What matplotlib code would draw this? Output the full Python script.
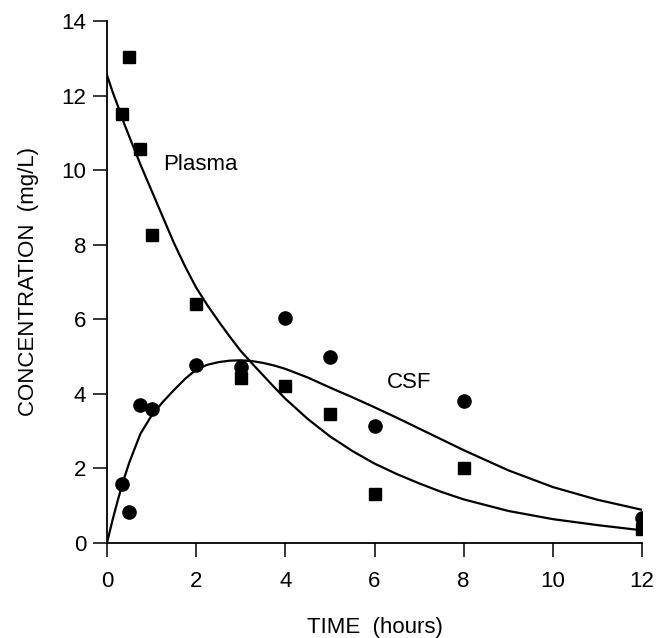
import matplotlib
matplotlib.use("Agg")
import matplotlib.pyplot as plt

plt.rcParams['font.family'] = ['Liberation Sans', 'DejaVu Sans']

# Observed data
plasma_t = [0.33, 0.5, 0.75, 1, 2, 3, 4, 5, 6, 8, 12]
plasma_c = [11.5, 13.03, 10.56, 8.25, 6.42, 4.42, 4.22, 3.47, 1.32, 2.02, 0.37]
csf_t = [0.33, 0.5, 0.75, 1, 2, 3, 4, 5, 6, 8, 12]
csf_c = [1.57, 0.84, 3.71, 3.59, 4.77, 4.72, 6.03, 4.99, 3.15, 3.82, 0.66]

# Fitted curves
curve_t = [0, 0.125, 0.25, 0.375, 0.5, 0.75, 1, 1.25, 1.5, 1.75, 2, 2.25, 2.5, 2.75, 3, 3.25,
           3.5, 3.75, 4, 4.5, 5, 5.5, 6, 6.5, 7, 7.5, 8, 9, 10, 11, 12]
plasma_fit = [12.55, 12.1, 11.7, 11.28, 10.9, 10.15, 9.45, 8.75, 8.05, 7.42, 6.85, 6.38, 5.95,
              5.54, 5.15, 4.82, 4.5, 4.18, 3.87, 3.33, 2.86, 2.47, 2.13, 1.85, 1.6, 1.37, 1.17,
              0.86, 0.64, 0.48, 0.34]
csf_fit = [0.0, 0.62, 1.18, 1.7, 2.16, 2.93, 3.42, 3.78, 4.1, 4.4, 4.65, 4.78, 4.85, 4.89, 4.9,
           4.88, 4.83, 4.76, 4.67, 4.44, 4.17, 3.91, 3.64, 3.36, 3.07, 2.78, 2.49, 1.95, 1.5,
           1.16, 0.89]

x_ticks = [0, 2, 4, 6, 8, 10, 12]
y_ticks = [0, 2, 4, 6, 8, 10, 12, 14]

fig = plt.figure(figsize=(6.56, 6.38), dpi=100)
ax = fig.add_axes([107/656, (638-543)/638, (642-107)/656, (543-21)/638])

ax.plot(curve_t, plasma_fit, color='black', lw=1.6, solid_capstyle='round', solid_joinstyle='round')
ax.plot(curve_t, csf_fit, color='black', lw=1.6, solid_capstyle='round', solid_joinstyle='round')
ax.plot(plasma_t, plasma_c, linestyle='none', marker='s', ms=9, color='black')
ax.plot(csf_t, csf_c, linestyle='none', marker='o', ms=9.5, color='black')

ax.text(1.26, 10.16, 'Plasma', fontsize=16, va='center', ha='left')
ax.text(6.28, 4.3, 'CSF', fontsize=16, va='center', ha='left')

ax.set_xlim(0, 12)
ax.set_ylim(0, 14)
ax.set_xticks(x_ticks)
ax.set_yticks(y_ticks)
ax.spines['top'].set_visible(False)
ax.spines['right'].set_visible(False)
for s in ('left', 'bottom'):
    ax.spines[s].set_linewidth(1.3)
ax.tick_params(direction='out', length=10, width=1.1, labelsize=16)
ax.tick_params(axis='x', pad=10)
ax.tick_params(axis='y', pad=5)
ax.set_xlabel('TIME  (hours)', fontsize=16, labelpad=18)
ax.set_ylabel('CONCENTRATION  (mg/L)', fontsize=16, labelpad=16)

fig.savefig('out.png', dpi=100)
